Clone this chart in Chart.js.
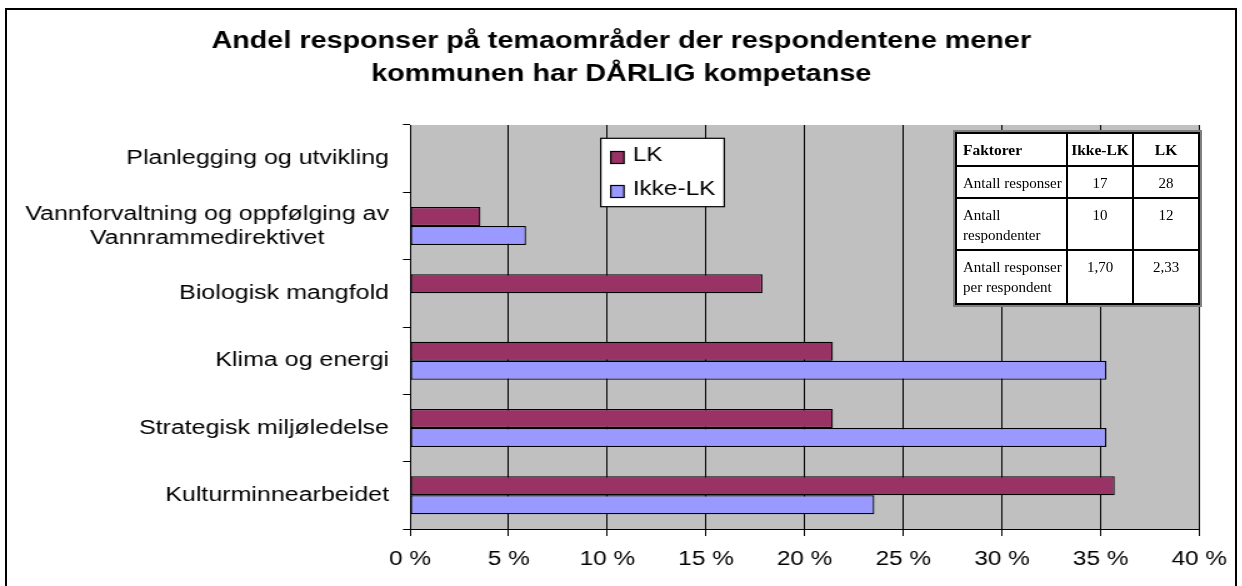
<!DOCTYPE html>
<html>
<head>
<meta charset="utf-8">
<script src="https://cdn.jsdelivr.net/npm/chart.js@4.4.1/dist/chart.umd.min.js"></script>
<style>
  html, body { margin:0; padding:0; background:#fff; width:1242px; height:586px; overflow:hidden; }
  #frame { position:absolute; left:5px; top:8px; width:1232px; height:620px; border:2px solid #000; box-sizing:border-box; }
  #stretch { position:absolute; left:0; top:0; width:994px; height:586px; transform:scaleX(1.25); transform-origin:0 0; }
  #stretch canvas { display:block; }
  #tbl { position:absolute; left:955px; top:132px; border-collapse:collapse; table-layout:fixed; width:243px;
         background:#fff; box-shadow:0 0 0 2px #808080; font-family:"Liberation Serif","Times New Roman",serif; color:#000; }
  #tbl td, #tbl th { border:2px solid #000; padding:6px 2px 0 2px; vertical-align:top; font-size:15px; line-height:20px;
         white-space:nowrap; overflow:hidden; }
  #tbl th { font-weight:bold; font-size:15.5px; text-align:center; }
  #tbl th:first-child, #tbl td:first-child { text-align:left; padding-left:6px; }
  #tbl td { text-align:center; }
</style>
</head>
<body>
<div id="frame"></div>
<div id="stretch"><canvas id="c" width="994" height="586"></canvas></div>
<table id="tbl"></table>
<script>
// ---- data ----
const categories = [
  'Planlegging og utvikling',
  ['Vannforvaltning og oppfølging av', 'Vannrammedirektivet'],
  'Biologisk mangfold',
  'Klima og energi',
  'Strategisk miljøledelse',
  'Kulturminnearbeidet'
];
const seriesNames = ['LK', 'Ikke-LK'];
const lkValues     = [0, 3.57, 17.86, 21.43, 21.43, 35.71];
const ikkeLkValues = [0, 5.88, 0, 35.29, 35.29, 23.53];
const xTickLabels = ['0 %', '5 %', '10 %', '15 %', '20 %', '25 %', '30 %', '35 %', '40 %'];
const titleLines = ['Andel responser på temaområder der respondentene mener', 'kommunen har DÅRLIG kompetanse'];
const tableHeader = ['Faktorer', 'Ikke-LK', 'LK'];
const tableRows = [
  ['Antall responser', '17', '28'],
  ['Antall<br>respondenter', '10', '12'],
  ['Antall responser<br>per respondent', '1,70', '2,33']
];

// ---- table ----
(function buildTable(){
  const t = document.getElementById('tbl');
  const widths = [111, 66, 66];
  const heights = [33, 32, 52, 54];
  let html = '<colgroup>' + widths.map(w => '<col style="width:' + w + 'px">').join('') + '</colgroup>';
  html += '<tr style="height:' + heights[0] + 'px">' + tableHeader.map(h => '<th>' + h + '</th>').join('') + '</tr>';
  tableRows.forEach((r, i) => {
    html += '<tr style="height:' + heights[i + 1] + 'px">' + r.map(c => '<td>' + c + '</td>').join('') + '</tr>';
  });
  t.innerHTML = html;
})();

// ---- plugins ----
const FONT = '"Liberation Sans", Arial, Helvetica, sans-serif';
const plotBg = {
  id: 'plotBg',
  beforeDraw(chart) {
    const { ctx, chartArea: a } = chart;
    ctx.save();
    ctx.fillStyle = '#C0C0C0';
    ctx.fillRect(a.left, a.top, a.right - a.left, a.bottom - a.top);
    ctx.restore();
  }
};
const yLabels = {
  id: 'yLabels',
  afterDraw(chart) {
    const ctx = chart.ctx, ys = chart.scales.y;
    ctx.save();
    ctx.font = '20px ' + FONT;
    ctx.fillStyle = '#000';
    ctx.textBaseline = 'middle';
    ctx.textAlign = 'center';
    const right = ys.right - 16.8;
    chart.data.labels.forEach((lab, i) => {
      const lines = Array.isArray(lab) ? lab : [lab];
      const w = Math.max(...lines.map(l => ctx.measureText(l).width));
      const cx = right - w / 2;
      const cy = ys.getPixelForValue(i);
      lines.forEach((l, j) => ctx.fillText(l, cx, cy + (j - (lines.length - 1) / 2) * 24));
    });
    ctx.restore();
  }
};
const boxLegend = {
  id: 'boxLegend',
  afterDraw(chart) {
    const ctx = chart.ctx;
    ctx.save();
    ctx.fillStyle = '#fff';
    ctx.fillRect(480.6, 138.3, 98.8, 68.4);
    ctx.strokeStyle = '#000';
    ctx.lineWidth = 1.2;
    ctx.strokeRect(480.6, 138.3, 98.8, 68.4);
    ctx.font = '19.5px ' + FONT;
    ctx.textBaseline = 'middle';
    ctx.textAlign = 'left';
    chart.data.datasets.forEach((ds, i) => {
      const cy = 157.5 + i * 34;
      ctx.fillStyle = ds.backgroundColor;
      ctx.fillRect(488.6, cy - 6, 10.6, 12);
      ctx.lineWidth = 1.2;
      ctx.strokeStyle = '#000';
      ctx.strokeRect(488.6, cy - 6, 10.6, 12);
      ctx.fillStyle = '#000';
      ctx.fillText(ds.label, 506.2, cy - 1.5);
    });
    ctx.restore();
  }
};

// ---- chart ----
new Chart(document.getElementById('c'), {
  type: 'bar',
  data: {
    labels: categories,
    datasets: [
      { label: seriesNames[0], data: lkValues, backgroundColor: '#993366' },
      { label: seriesNames[1], data: ikkeLkValues, backgroundColor: '#9999FF' }
    ]
  },
  options: {
    indexAxis: 'y',
    responsive: false,
    animation: false,
    devicePixelRatio: 1,
    layout: { padding: 0 },
    datasets: {
      bar: {
        categoryPercentage: 0.565,
        barPercentage: 1.0,
        borderColor: '#000',
        borderWidth: ctx => (ctx.raw ? 1.25 : 0),
        borderSkipped: false
      }
    },
    plugins: {
      legend: { display: false },
      tooltip: { enabled: false },
      title: {
        display: true,
        text: titleLines,
        color: '#000',
        font: { family: FONT, size: 23, weight: 'bold', lineHeight: 1.4 },
        padding: { top: 25.9, bottom: 34.7 }
      }
    },
    scales: {
      x: {
        type: 'linear',
        position: 'bottom',
        min: 0, max: 40,
        ticks: {
          stepSize: 5,
          color: '#000',
          font: { family: FONT, size: 19.5 },
          padding: 12.3,
          maxRotation: 0,
          autoSkip: false,
          callback: (v, i) => xTickLabels[i]
        },
        grid: { color: '#000', lineWidth: 1, drawTicks: true, tickLength: 7 },
        border: { display: true, color: '#000', width: 1 },
        afterFit(s) { s.height = 57; }
      },
      y: {
        type: 'category',
        position: 'left',
        ticks: { display: false },
        grid: { offset: true, drawOnChartArea: false, drawTicks: true, tickLength: 5.6, color: '#000' },
        border: { display: true, color: '#000', width: 1 },
        afterFit(s) { s.width = 328; }
      },
      pad: {
        type: 'linear',
        position: 'right',
        display: true,
        ticks: { display: false },
        grid: { display: false, drawTicks: false },
        border: { display: false },
        afterFit(s) { s.width = 33.2; }
      }
    }
  },
  plugins: [plotBg, yLabels, boxLegend]
});
</script>
</body>
</html>
